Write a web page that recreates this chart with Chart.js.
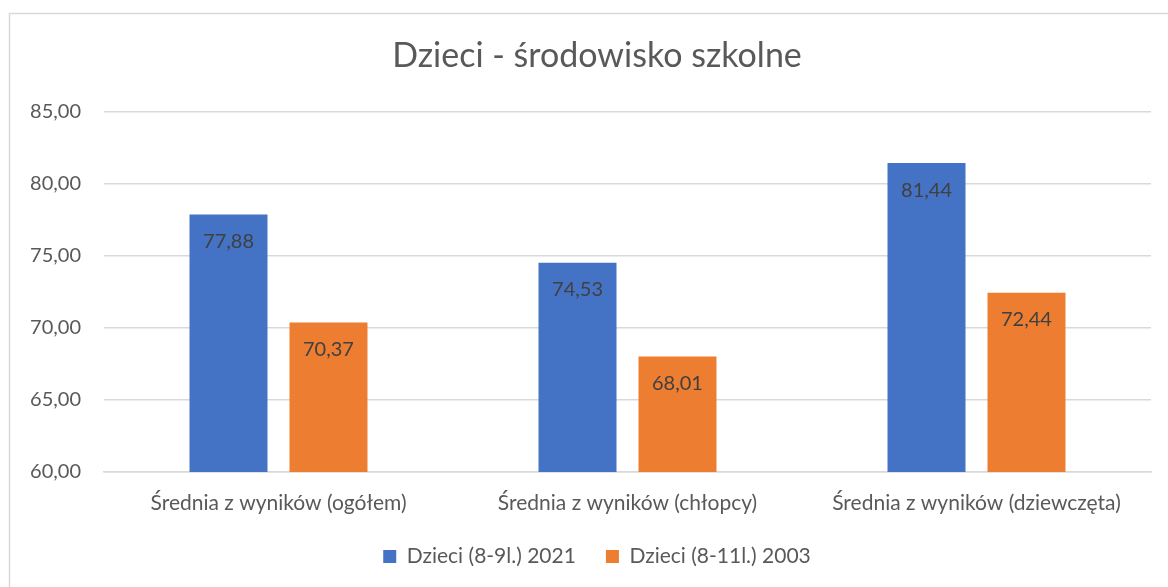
<!DOCTYPE html>
<html>
<head>
<meta charset="utf-8">
<script src="https://cdn.jsdelivr.net/npm/chart.js@4.4.0/dist/chart.umd.min.js"></script>
<style>
    html, body { margin: 0; padding: 0; background: #fff; overflow: hidden; }
    canvas { display: block; }
</style>
</head>
<body>
<!-- the original chart is cut off on the right, so the canvas is a bit wider than the window -->
<canvas id="chart" width="1194" height="587"></canvas>
<script>
const categories = ['Średnia z wyników (ogółem)', 'Średnia z wyników (chłopcy)', 'Średnia z wyników (dziewczęta)'];
const series2021 = [77.88, 74.53, 81.44];
const series2003 = [70.37, 68.01, 72.44];
const seriesLabels = ['Dzieci (8-9l.) 2021', 'Dzieci (8-11l.) 2003'];
const yTicks = [60, 65, 70, 75, 80, 85];

const FONT = 'Lato, "Open Sans", sans-serif';
const TEXT = '#595959';

const fmt = v => v.toFixed(2).replace('.', ',');

// frame around the whole chart
const framePlugin = {
    id: 'frame',
    beforeDraw(chart) {
        const ctx = chart.ctx;
        ctx.save();
        ctx.strokeStyle = '#d9d9d9';
        ctx.lineWidth = 1.5;
        ctx.strokeRect(9.5, 13.5, chart.width - 19, 620);
        ctx.restore();
    }
};

// value labels inside the top of each bar
const valueLabels = {
    id: 'valueLabels',
    afterDatasetsDraw(chart) {
        const ctx = chart.ctx;
        ctx.save();
        ctx.font = '20px ' + FONT;
        ctx.fillStyle = '#404040';
        ctx.textAlign = 'center';
        ctx.textBaseline = 'middle';
        chart.data.datasets.forEach((ds, i) => {
            chart.getDatasetMeta(i).data.forEach((bar, j) => {
                ctx.fillText(fmt(ds.data[j]), bar.x, bar.y + 27);
            });
        });
        ctx.restore();
    }
};

new Chart(document.getElementById('chart'), {
    type: 'bar',
    data: {
        labels: categories,
        datasets: [{
            label: seriesLabels[0],
            data: series2021,
            backgroundColor: '#4472c4'
        }, {
            label: seriesLabels[1],
            data: series2003,
            backgroundColor: '#ed7d31'
        }]
    },
    options: {
        responsive: false,
        animation: false,
        devicePixelRatio: 1,
        layout: { padding: { left: 0, right: 0, top: 0, bottom: 10 } },
        datasets: {
            bar: { categoryPercentage: 0.573, barPercentage: 0.78 }
        },
        plugins: {
            title: {
                display: true,
                text: 'Dzieci - środowisko szkolne',
                color: TEXT,
                font: { family: FONT, size: 34, weight: 'normal' },
                padding: { top: 36, bottom: 35 }
            },
            legend: {
                position: 'bottom',
                labels: {
                    color: TEXT,
                    font: { family: FONT, size: 21 },
                    boxWidth: 13,
                    boxHeight: 13,
                    padding: 30
                }
            },
            tooltip: { enabled: false }
        },
        scales: {
            x: {
                grid: { display: false, drawTicks: false },
                border: { color: '#d9d9d9', width: 1.5 },
                ticks: { color: TEXT, font: { family: FONT, size: 21 }, padding: 19 },
                afterFit(scale) { scale.height = 44; }
            },
            y: {
                min: 60,
                max: 85,
                afterBuildTicks(scale) { scale.ticks = yTicks.map(v => ({ value: v })); },
                grid: { color: '#d9d9d9', lineWidth: 1.5, drawTicks: false },
                border: { display: false },
                ticks: {
                    color: TEXT,
                    font: { family: FONT, size: 20 },
                    padding: 23,
                    callback: v => fmt(v)
                },
                afterFit(scale) { scale.width = 104; }
            },
            // empty right-hand space, keeps the plot area off the right edge
            yRight: {
                position: 'right',
                display: false,
                afterFit(scale) { scale.width = 43; }
            }
        }
    },
    plugins: [framePlugin, valueLabels]
});
</script>
</body>
</html>
